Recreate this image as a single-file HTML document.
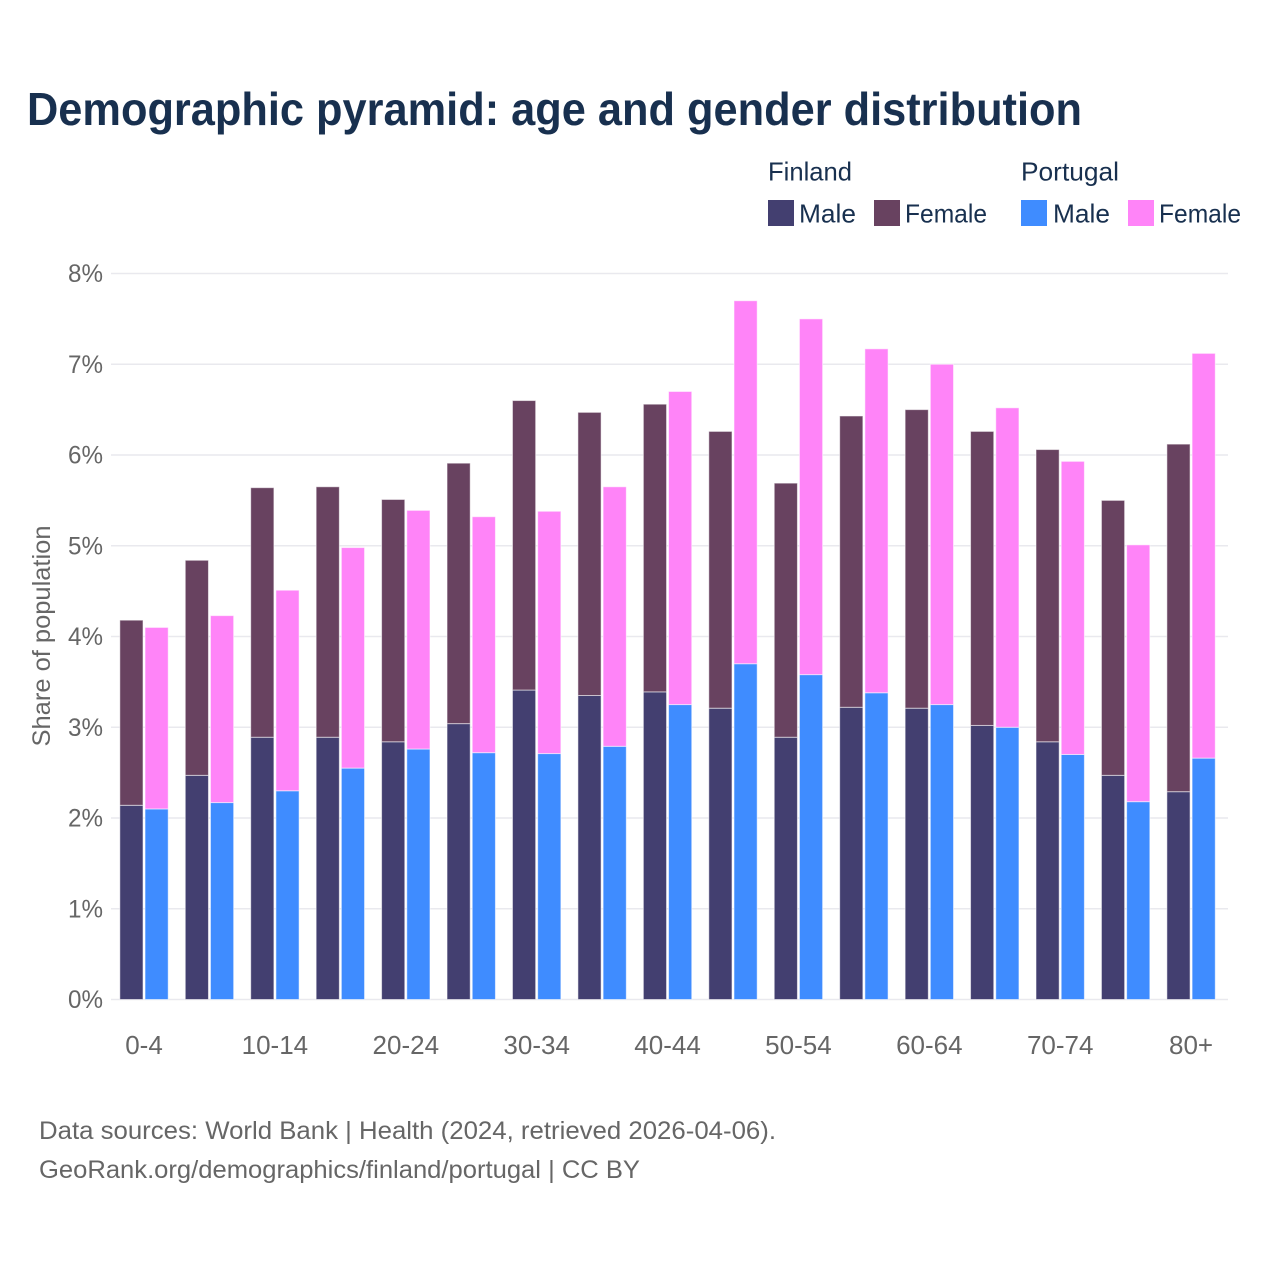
<!DOCTYPE html>
<html lang="en">
<head>
<meta charset="utf-8">
<title>Demographic pyramid</title>
<style>
html,body{margin:0;padding:0;background:#fff;}
svg{display:block;font-family:"Liberation Sans",sans-serif;}
</style>
</head>
<body>
<svg id="chart" width="1280" height="1280" viewBox="0 0 1280 1280" xmlns="http://www.w3.org/2000/svg">
  <rect width="1280" height="1280" fill="#fff"/>
  <text x="27" y="125" font-size="46" font-weight="700" fill="#18304f" textLength="1055" lengthAdjust="spacingAndGlyphs">Demographic pyramid: age and gender distribution</text>

  <g font-size="26" fill="#18304f">
    <text x="768" y="180.5" textLength="84" lengthAdjust="spacingAndGlyphs">Finland</text>
    <text x="1021" y="180.5" textLength="98" lengthAdjust="spacingAndGlyphs">Portugal</text>
    <rect x="768" y="200" width="26" height="26" fill="#433f70"/>
    <text x="799" y="222.5" textLength="57" lengthAdjust="spacingAndGlyphs">Male</text>
    <rect x="874" y="200" width="26" height="26" fill="#684260"/>
    <text x="905" y="222.5" textLength="82" lengthAdjust="spacingAndGlyphs">Female</text>
    <rect x="1021" y="200" width="26" height="26" fill="#3f8cff"/>
    <text x="1053" y="222.5" textLength="57" lengthAdjust="spacingAndGlyphs">Male</text>
    <rect x="1128" y="200" width="26" height="26" fill="#ff84f8"/>
    <text x="1159" y="222.5" textLength="82" lengthAdjust="spacingAndGlyphs">Female</text>
  </g>

  <g id="grid"></g>
  <g id="y-ticks" font-size="25" fill="#666"></g>
  <g id="bars"></g>
  <g id="x-ticks" font-size="26" fill="#666"></g>

  <text transform="translate(50,636) rotate(-90)" text-anchor="middle" font-size="25" fill="#666" textLength="221" lengthAdjust="spacingAndGlyphs">Share of population</text>

  <text x="39" y="1139" font-size="25" fill="#666" textLength="737" lengthAdjust="spacingAndGlyphs">Data sources: World Bank | Health (2024, retrieved 2026-04-06).</text>
  <text x="39" y="1178" font-size="25" fill="#666" textLength="601" lengthAdjust="spacingAndGlyphs">GeoRank.org/demographics/finland/portugal | CC BY</text>
</svg>
<script>
const categories = ['0-4','5-9','10-14','15-19','20-24','25-29','30-34','35-39','40-44','45-49','50-54','55-59','60-64','65-69','70-74','75-79','80+'];
const finlandMale = [2.14,2.47,2.89,2.89,2.84,3.04,3.41,3.35,3.39,3.21,2.89,3.22,3.21,3.02,2.84,2.47,2.29];
const finlandFemale = [2.04,2.37,2.75,2.76,2.67,2.87,3.19,3.12,3.17,3.05,2.80,3.21,3.29,3.24,3.22,3.03,3.83];
const portugalMale = [2.10,2.17,2.30,2.55,2.76,2.72,2.71,2.79,3.25,3.70,3.58,3.38,3.25,3.00,2.70,2.18,2.66];
const portugalFemale = [2.00,2.06,2.21,2.43,2.63,2.60,2.67,2.86,3.45,4.00,3.92,3.79,3.75,3.52,3.23,2.83,4.46];
const yTickValues = [0,1,2,3,4,5,6,7,8];
const xTickLabels = ['0-4','10-14','20-24','30-34','40-44','50-54','60-64','70-74','80+'];

const NS = 'http://www.w3.org/2000/svg';
const plotLeft = 111, plotRight = 1228, plotBottom = 999.5, plotTop = 273.5;
const bandLeft = 111.3, bandRight = 1223.8;
const yMax = 8;
const bandStep = (bandRight - bandLeft) / categories.length;
const barWidth = 23.2;
const barGap = 1;

function yScale(v) { return plotBottom - (v / yMax) * (plotBottom - plotTop); }
function xCenter(i) { return bandLeft + bandStep * (i + 0.5); }
function make(tag, attrs) {
  const el = document.createElementNS(NS, tag);
  for (const k in attrs) el.setAttribute(k, attrs[k]);
  return el;
}

const gridG = document.getElementById('grid');
const yG = document.getElementById('y-ticks');
yTickValues.forEach(function (v) {
  const line = make('line', { x1: plotLeft, x2: plotRight, y1: yScale(v), y2: yScale(v), stroke: '#e9e9ee', 'stroke-width': 1.5 });
  
  
  gridG.appendChild(line);
  const t = make('text', { x: 103, y: yScale(v) + 8.5, 'text-anchor': 'end', textLength: 35, lengthAdjust: 'spacingAndGlyphs' });
  
  
  t.textContent = v + '%';
  yG.appendChild(t);
});

const barsG = document.getElementById('bars');
function drawBar(x, base, value, fill, name) {
  const top = yScale(base + value);
  const rect = make('rect', { x: x, y: top, width: barWidth, height: yScale(base) - top, fill: fill, stroke: '#fff', 'stroke-opacity': 0.55, 'stroke-width': 1 });
  
  
  barsG.appendChild(rect);
}
categories.forEach(function (cat, i) {
  const c = xCenter(i);
  const xF = c - barWidth - barGap;
  const xP = c + barGap;
  drawBar(xF, 0, finlandMale[i], '#433f70', 'bar-finland-male-' + cat);
  drawBar(xF, finlandMale[i], finlandFemale[i], '#684260', 'bar-finland-female-' + cat);
  drawBar(xP, 0, portugalMale[i], '#3f8cff', 'bar-portugal-male-' + cat);
  drawBar(xP, portugalMale[i], portugalFemale[i], '#ff84f8', 'bar-portugal-female-' + cat);
});

const xG = document.getElementById('x-ticks');
xTickLabels.forEach(function (label) {
  const i = categories.indexOf(label);
  const t = make('text', { x: xCenter(i), y: 1054, 'text-anchor': 'middle' });
  
  
  t.textContent = label;
  xG.appendChild(t);
});
</script>
</body>
</html>
